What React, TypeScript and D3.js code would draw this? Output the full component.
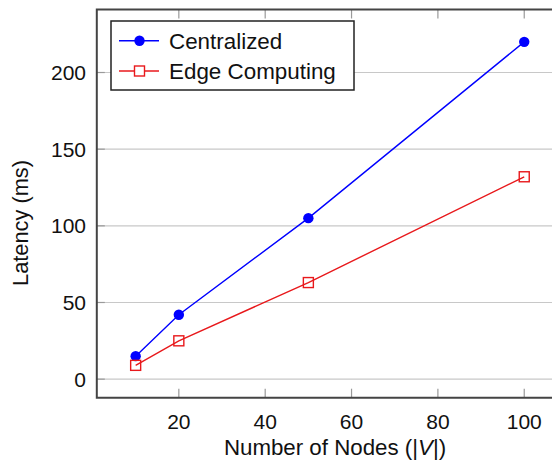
import React from "react";
import * as d3 from "d3";

const nodes = [10, 20, 50, 100];
const centralized = [15, 42, 105, 220];
const edgeComputing = [9, 25, 63, 132];
const xTicks = [20, 40, 60, 80, 100];
const yTicks = [0, 50, 100, 150, 200];
const seriesNames = ["Centralized", "Edge Computing"];

const W = 552;
const H = 468;
const FONT = "'Liberation Sans', Arial, Helvetica, sans-serif";

export default function App() {
  const x = d3.scaleLinear().domain([1, 109]).range([96.8, 563.1]);
  const y = d3.scaleLinear().domain([-12.1, 241.1]).range([397.7, 9.5]);
  const [x0, x1] = x.range();
  const [yb, yt] = y.range();

  const line = d3
    .line<[number, number]>()
    .x((d) => x(d[0]))
    .y((d) => y(d[1]));

  const cData: [number, number][] = nodes.map((n, i) => [n, centralized[i]]);
  const eData: [number, number][] = nodes.map((n, i) => [n, edgeComputing[i]]);

  const blue = "#0000ff";
  const red = "#e8191c";
  const sq = 10;

  return (
    <svg
      width={W}
      height={H}
      style={{ position: "absolute", left: 0, top: 0, background: "#fff" }}
      fontFamily={FONT}
    >
      <defs>
        <clipPath id="plot">
          <rect x={x0} y={yt} width={x1 - x0} height={yb - yt} />
        </clipPath>
      </defs>
      {yTicks.map((t) => (
        <line key={"g" + t} x1={x0} x2={x1} y1={y(t)} y2={y(t)} stroke="#c8c8c8" strokeWidth={1.2} />
      ))}
      {yTicks.map((t) => (
        <line key={"yt" + t} x1={x0} x2={x0 + 8} y1={y(t)} y2={y(t)} stroke="#9a9a9a" strokeWidth={1.2} />
      ))}
      {xTicks.map((t) => (
        <g key={"xt" + t}>
          <line x1={x(t)} x2={x(t)} y1={yb} y2={yb - 9} stroke="#9a9a9a" strokeWidth={1.2} />
          <line x1={x(t)} x2={x(t)} y1={yt} y2={yt + 9} stroke="#9a9a9a" strokeWidth={1.2} />
        </g>
      ))}
      <g clipPath="url(#plot)">
        <path d={line(cData) || ""} fill="none" stroke={blue} strokeWidth={1.4} />
        <path d={line(eData) || ""} fill="none" stroke={red} strokeWidth={1.4} />
        {cData.map((d, i) => (
          <circle key={"c" + i} cx={x(d[0])} cy={y(d[1])} r={5.2} fill={blue} />
        ))}
        {eData.map((d, i) => (
          <rect
            key={"e" + i}
            x={x(d[0]) - sq / 2}
            y={y(d[1]) - sq / 2}
            width={sq}
            height={sq}
            fill="none"
            stroke={red}
            strokeWidth={1.4}
          />
        ))}
      </g>
      <path
        d={`M${x1},${yt} H${x0} V${yb} H${x1}`}
        fill="none"
        stroke="#444"
        strokeWidth={2}
      />
      {yTicks.map((t) => (
        <text key={"yl" + t} x={86} y={y(t)} dy="0.36em" textAnchor="end" fontSize={21} fill="#111">
          {t}
        </text>
      ))}
      {xTicks.map((t) => (
        <text key={"xl" + t} x={x(t)} y={428.5} textAnchor="middle" fontSize={21} fill="#111">
          {t}
        </text>
      ))}
      <text x={335} y={455} textAnchor="middle" fontSize={22.3} fill="#111">
        Number of Nodes (|<tspan fontStyle="italic">V</tspan>|)
      </text>
      <text
        transform="translate(28,223) rotate(-90)"
        textAnchor="middle"
        fontSize={21.8}
        fill="#111"
      >
        Latency (ms)
      </text>
      <g>
        <rect x={111} y={21} width={243} height={69} fill="#fff" stroke="#222" strokeWidth={1.5} />
        <line x1={119} x2={159} y1={40.7} y2={40.7} stroke={blue} strokeWidth={1.4} />
        <circle cx={139.5} cy={40.7} r={5.2} fill={blue} />
        <text x={169} y={40.7} dy="0.36em" fontSize={22.4} fill="#111">
          {seriesNames[0]}
        </text>
        <line x1={119} x2={159} y1={71} y2={71} stroke={red} strokeWidth={1.4} />
        <rect x={139.5 - sq / 2} y={71 - sq / 2} width={sq} height={sq} fill="#fff" stroke={red} strokeWidth={1.4} />
        <text x={169} y={71} dy="0.36em" fontSize={22.4} fill="#111">
          {seriesNames[1]}
        </text>
      </g>
    </svg>
  );
}
